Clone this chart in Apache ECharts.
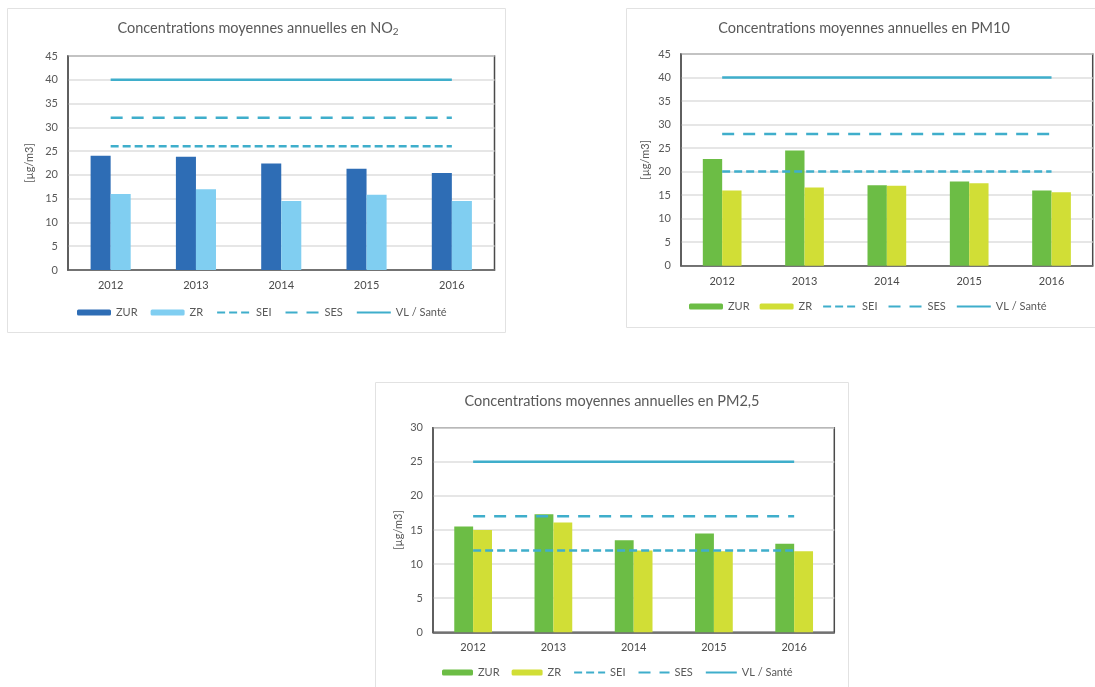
<!DOCTYPE html>
<html>
<head>
<meta charset="utf-8">
<script src="https://cdn.jsdelivr.net/npm/echarts@6/dist/echarts.min.js"></script>
<style>
  html, body { margin: 0; padding: 0; background: #ffffff; }
  #chart { width: 1095px; height: 687px; }
</style>
</head>
<body>
<div id="chart"></div>
<script>
// Annual mean concentrations (µg/m3) by year
const years = ['2012', '2013', '2014', '2015', '2016'];

const no2Zur = [24.0, 23.8, 22.4, 21.3, 20.4];
const no2Zr  = [16.0, 17.0, 14.5, 15.8, 14.5];
const no2Sei = 26, no2Ses = 32, no2Vl = 40;

const pm10Zur = [22.7, 24.5, 17.1, 17.9, 16.0];
const pm10Zr  = [16.0, 16.6, 17.0, 17.5, 15.6];
const pm10Sei = 20, pm10Ses = 28, pm10Vl = 40;

const pm25Zur = [15.5, 17.3, 13.5, 14.5, 13.0];
const pm25Zr  = [15.0, 16.1, 12.0, 11.9, 11.9];
const pm25Sei = 12, pm25Ses = 17, pm25Vl = 25;

const yTicks = [
  { max: 45, interval: 5 },
  { max: 45, interval: 5 },
  { max: 30, interval: 5 }
];

const legendNames = ['ZUR', 'ZR', 'SEI', 'SES', 'VL / Santé'];

const FONT = 'Lato, "Open Sans", sans-serif';
const TXT = '#595959';
const LINE_COLOR = '#3FAECB';

const flat = (v) => years.map(() => v);

const panels = [
  { key: 'no2', zur: no2Zur, zr: no2Zr, sei: no2Sei, ses: no2Ses, vl: no2Vl,
    cZur: '#2E6DB5', cZr: '#80CEF1',
    grid: { left: 68, top: 56, width: 426.5, height: 214 },
    nameGap: 33, legend: { left: 77, top: 307, w: 34, gap: 13 } },
  { key: 'pm10', zur: pm10Zur, zr: pm10Zr, sei: pm10Sei, ses: pm10Ses, vl: pm10Vl,
    cZur: '#6CBD45', cZr: '#D1DE36',
    grid: { left: 681, top: 54, width: 411.7, height: 211.7 },
    nameGap: 30, legend: { left: 689, top: 301, w: 34, gap: 10 } },
  { key: 'pm25', zur: pm25Zur, zr: pm25Zr, sei: pm25Sei, ses: pm25Ses, vl: pm25Vl,
    cZur: '#6CBD45', cZr: '#D1DE36',
    grid: { left: 433, top: 427.7, width: 401.3, height: 204.6 },
    nameGap: 29, legend: { left: 442, top: 667, w: 31, gap: 12 } }
];

const grids = [], xAxes = [], yAxes = [], series = [], legends = [];

panels.forEach((p, i) => {
  grids.push(Object.assign({
    show: true, borderColor: '#4a4a4a', borderWidth: 1.5, backgroundColor: 'transparent'
  }, p.grid));

  xAxes.push({
    type: 'category', gridIndex: i, data: years, boundaryGap: true,
    axisLine: { show: true, lineStyle: { color: '#595959', width: 1.5 } },
    axisTick: { show: false },
    axisLabel: { color: '#4a4a4a', fontSize: 11, fontFamily: FONT, margin: 10 }
  });

  yAxes.push({
    type: 'value', gridIndex: i, min: 0, max: yTicks[i].max, interval: yTicks[i].interval,
    name: '[µg/m3]', nameLocation: 'middle', nameGap: p.nameGap, nameRotate: 90,
    nameTextStyle: { color: TXT, fontSize: 11, fontFamily: FONT },
    axisLine: { show: true, lineStyle: { color: '#595959', width: 1.5 } },
    axisTick: { show: false },
    axisLabel: { color: TXT, fontSize: 11, fontFamily: FONT, margin: 10 },
    splitLine: { show: true, lineStyle: { color: '#dedede', width: 1.5 } }
  });

  const tag = '#' + p.key;
  series.push(
    { name: 'ZUR' + tag, type: 'bar', xAxisIndex: i, yAxisIndex: i, data: p.zur,
      barWidth: '23.5%', barGap: '0%', itemStyle: { color: p.cZur } },
    { name: 'ZR' + tag, type: 'bar', xAxisIndex: i, yAxisIndex: i, data: p.zr,
      barWidth: '23.5%', barGap: '0%', itemStyle: { color: p.cZr } },
    { name: 'SEI' + tag, type: 'line', xAxisIndex: i, yAxisIndex: i, data: flat(p.sei),
      symbol: 'none', z: 3, color: LINE_COLOR,
      lineStyle: { color: LINE_COLOR, width: 2.5, type: [8, 4] } },
    { name: 'SES' + tag, type: 'line', xAxisIndex: i, yAxisIndex: i, data: flat(p.ses),
      symbol: 'none', z: 3, color: LINE_COLOR,
      lineStyle: { color: LINE_COLOR, width: 2.5, type: [12, 9] } },
    { name: 'VL / Santé' + tag, type: 'line', xAxisIndex: i, yAxisIndex: i, data: flat(p.vl),
      symbol: 'none', z: 3, color: LINE_COLOR,
      lineStyle: { color: LINE_COLOR, width: 2.5, type: 'solid' } }
  );

  legends.push({
    orient: 'horizontal', left: p.legend.left, top: p.legend.top, padding: 0,
    itemWidth: p.legend.w, itemHeight: 6, itemGap: p.legend.gap,
    // threshold lines show as plain strokes in the legend (no marker)
    data: legendNames.map((n, k) => k < 2
      ? { name: n + tag }
      : { name: n + tag, itemStyle: { opacity: 0 } }),
    formatter: (n) => n.split('#')[0],
    textStyle: { color: TXT, fontSize: 11, fontFamily: FONT },
    selectedMode: false
  });
});

const titleRich = {
  a: { fontSize: 14.5, fontWeight: 'normal', color: TXT, fontFamily: FONT, lineHeight: 18, verticalAlign: 'middle' },
  s: { fontSize: 10, fontWeight: 'normal', color: TXT, fontFamily: FONT, lineHeight: 18, verticalAlign: 'bottom' }
};

const titles = [
  { text: '{a|Concentrations moyennes annuelles en NO}{s|2}', left: 258, top: 19 },
  { text: '{a|Concentrations moyennes annuelles en PM10}', left: 864, top: 19 },
  { text: '{a|Concentrations moyennes annuelles en PM2,5}', left: 612, top: 392 }
].map(t => ({
  text: t.text, left: t.left, top: t.top, textAlign: 'center', padding: 0,
  textStyle: { fontWeight: 'normal', rich: titleRich }
}));

const panelStroke = { stroke: '#e2e2e2', lineWidth: 1, fill: 'none' };
const graphics = [
  { type: 'rect', shape: { x: 7.5, y: 8.5, width: 498, height: 324 }, style: panelStroke, silent: true, z: -10 },
  { type: 'rect', shape: { x: 626.5, y: 8.5, width: 480, height: 319 }, style: panelStroke, silent: true, z: -10 },
  { type: 'rect', shape: { x: 375.5, y: 382.5, width: 473, height: 320 }, style: panelStroke, silent: true, z: -10 }
];

const chart = echarts.init(document.getElementById('chart'), null, { renderer: 'canvas' });
chart.setOption({
  animation: false,
  backgroundColor: '#ffffff',
  title: titles,
  legend: legends,
  grid: grids,
  xAxis: xAxes,
  yAxis: yAxes,
  series: series,
  graphic: graphics
});
</script>
</body>
</html>
